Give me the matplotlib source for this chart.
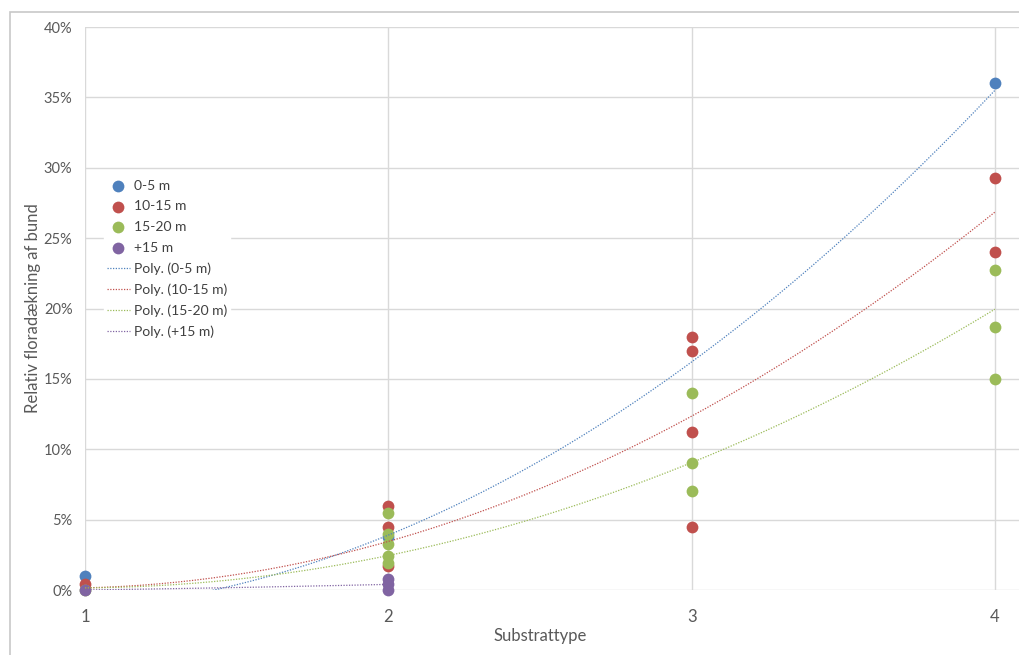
import matplotlib
matplotlib.use("Agg")
import matplotlib.pyplot as plt
import numpy as np
from matplotlib.patches import Rectangle
from matplotlib.ticker import FuncFormatter

plt.rcParams["font.family"] = ["Lato", "DejaVu Sans"]

# Målepunkter (substrattype, relativ floradækning i %)
x_0_5 = [1, 2, 4]
y_0_5 = [1.0, 3.8, 36.0]

x_10_15 = [1, 2, 2, 2, 3, 3, 3, 3, 4, 4]
y_10_15 = [0.4, 6.0, 4.5, 1.7, 18.0, 17.0, 11.2, 4.5, 29.3, 24.0]

x_15_20 = [1, 2, 2, 2, 2, 2, 3, 3, 3, 4, 4, 4]
y_15_20 = [0.0, 5.5, 4.0, 3.3, 2.4, 1.9, 14.0, 9.0, 7.0, 22.7, 18.7, 15.0]

x_15plus = [1, 2, 2, 2]
y_15plus = [0.0, 0.8, 0.4, 0.0]

# Polynomiske tendenslinjer (2. orden): a*x^2 + b*x + c
poly_0_5 = [3.5, -5.2, 0.3]
poly_10_15 = [2.8, -5.1, 2.45]
poly_15_20 = [2.15, -4.15, 2.15]
poly_15plus = [0.1, 0.1, -0.2]

labels = ["0-5 m", "10-15 m", "15-20 m", "+15 m"]
colors = ["#4F81BD", "#C0504D", "#9BBB59", "#8064A2"]

series = [
    (x_0_5, y_0_5, poly_0_5),
    (x_10_15, y_10_15, poly_10_15),
    (x_15_20, y_15_20, poly_15_20),
    (x_15plus, y_15plus, poly_15plus),
]

fig = plt.figure(figsize=(10.19, 6.55), dpi=100)
ax = fig.add_axes([85 / 1019, 65 / 655, 934 / 1019, 563 / 655])

# grå ramme om diagramområdet
fig.patches.append(Rectangle((9.5 / 1019, -0.1), 2, (655 - 12.5) / 655 + 0.1,
                             transform=fig.transFigure, fill=False,
                             edgecolor="#C8C8C8", linewidth=1.2))

handles_pts = []
for (xs, ys, _), lab, col in zip(series, labels, colors):
    h = ax.scatter(xs, ys, s=72, color=col, label=lab, zorder=3,
                   linewidths=0, clip_on=False)
    handles_pts.append(h)

handles_lines = []
for (xs, ys, coef), lab, col in zip(series, labels, colors):
    xx = np.linspace(min(xs), max(xs), 200)
    h, = ax.plot(xx, np.polyval(coef, xx), color=col, linewidth=0.9,
                 dashes=(1, 1.2), label="Poly. (" + lab + ")", zorder=4)
    handles_lines.append(h)

ax.set_xlim(1, 1 + 934 / 303.3)
ax.set_ylim(0, 40)
ax.set_xticks([1, 2, 3, 4])
ax.set_yticks(np.arange(0, 41, 5))
ax.yaxis.set_major_formatter(FuncFormatter(lambda v, p: f"{v:.0f}%"))
ax.grid(True, color="#D9D9D9", linewidth=1)
ax.set_axisbelow(True)
for s in ax.spines.values():
    s.set_visible(False)
ax.tick_params(length=0, labelcolor="#595959")
ax.tick_params(axis="y", pad=9, labelsize=10.5)
ax.tick_params(axis="x", pad=14, labelsize=12)

ax.set_xlabel("Substrattype", fontsize=12, color="#595959")
ax.xaxis.set_label_coords((540 - 85) / 934, -0.068)
ax.set_ylabel("Relativ floradækning af bund", fontsize=12, color="#595959")
ax.yaxis.set_label_coords(-0.047, 0.5)

leg = ax.legend(handles_pts + handles_lines,
                [h.get_label() for h in handles_pts + handles_lines],
                loc="upper left", bbox_to_anchor=(97 / 1019, (655 - 170) / 655),
                bbox_transform=fig.transFigure, frameon=True, fontsize=10,
                labelspacing=0.62, handlelength=1.65, handletextpad=0.3,
                borderpad=0.2, scatterpoints=1)
leg.get_frame().set_edgecolor("white")
leg.get_frame().set_facecolor("white")
leg.get_frame().set_alpha(1)
for t in leg.get_texts():
    t.set_color("#404040")

fig.savefig("out.png", dpi=100)
